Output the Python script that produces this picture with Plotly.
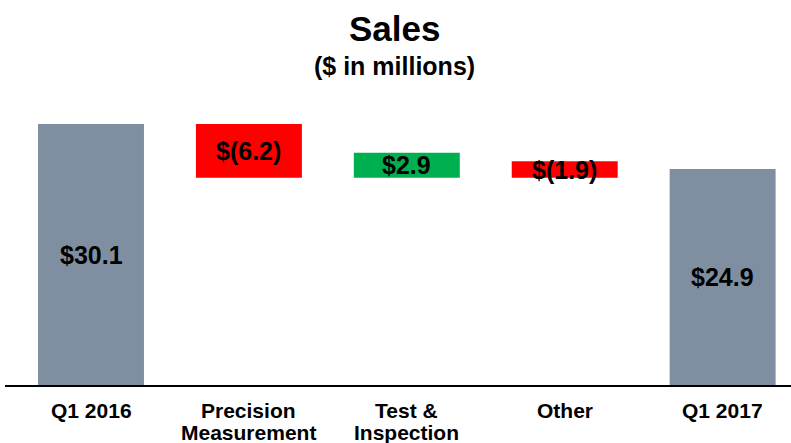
import plotly.graph_objects as go

# ---- data ----
categories = ["Q1 2016", "Precision<br>Measurement", "Test &<br>Inspection", "Other", "Q1 2017"]
start_total = 30.1
deltas = [-6.2, 2.9, -1.9]
end_total = 24.9
title_text = "Sales"
subtitle_text = "($ in millions)"

GRAY = "#7f8fa1"
RED = "#ff0000"
GREEN = "#00b050"
FONT = "Liberation Sans, Arial, Helvetica, sans-serif"

# running totals; in the reference the change bars all rest on the lowest running level
running = [start_total]
for d in deltas:
    running.append(running[-1] + d)
floor_level = min(running)

bases = [0] + [floor_level] * len(deltas) + [0]
heights = [start_total] + [abs(d) for d in deltas] + [end_total]
colors = [GRAY] + [RED if d < 0 else GREEN for d in deltas] + [GRAY]

def fmt(v):
    return f"${v:.1f}" if v >= 0 else f"$({abs(v):.1f})"

labels = [fmt(start_total)] + [fmt(d) for d in deltas] + [fmt(end_total)]

x_idx = list(range(len(categories)))

fig = go.Figure(
    go.Bar(
        x=x_idx,
        y=heights,
        base=bases,
        marker=dict(color=colors, line=dict(width=0)),
        width=0.671,
        hoverinfo="skip",
    )
)

annotations = []
# value labels at bar centres
for i, (b, h, t) in enumerate(zip(bases, heights, labels)):
    annotations.append(dict(
        x=i, y=b + h / 2, xref="x", yref="y", text=f"<b>{t}</b>",
        showarrow=False, xanchor="center", yanchor="middle",
        font=dict(family=FONT, size=25, color="black"),
    ))

# category labels (manual lines for tighter line spacing)
for i, cat in enumerate(categories):
    for j, line in enumerate(cat.split("<br>")):
        annotations.append(dict(
            x=i, y=0, xref="x", yref="paper", text=f"<b>{line}</b>",
            showarrow=False, xanchor="center", yanchor="middle",
            yshift=-25 - 22 * j,
            font=dict(family=FONT, size=21, color="black"),
        ))

# titles
annotations.append(dict(
    x=0.496, y=1, xref="paper", yref="paper", text=f"<b>{title_text}</b>",
    showarrow=False, xanchor="center", yanchor="middle", yshift=72,
    font=dict(family=FONT, size=35, color="black"),
))
annotations.append(dict(
    x=0.496, y=1, xref="paper", yref="paper", text=f"<b>{subtitle_text}</b>",
    showarrow=False, xanchor="center", yanchor="middle", yshift=34,
    font=dict(family=FONT, size=25, color="black"),
))

fig.update_layout(
    width=791, height=443,
    margin=dict(l=5, r=0, t=100, b=58),
    paper_bgcolor="white", plot_bgcolor="white",
    showlegend=False,
    annotations=annotations,
    xaxis=dict(
        range=[-0.5446, 4.433], showgrid=False, zeroline=False,
        showticklabels=False, ticks="",
        showline=True, linecolor="black", linewidth=2,
        fixedrange=True,
    ),
    yaxis=dict(
        range=[0, 32.87], showgrid=False, zeroline=False,
        showticklabels=False, ticks="", showline=False,
        fixedrange=True,
    ),
)

fig.write_html(
    "out.html",
    config={"displayModeBar": False},
    post_script="document.body.style.margin='0';document.body.style.overflow='hidden';",
)
